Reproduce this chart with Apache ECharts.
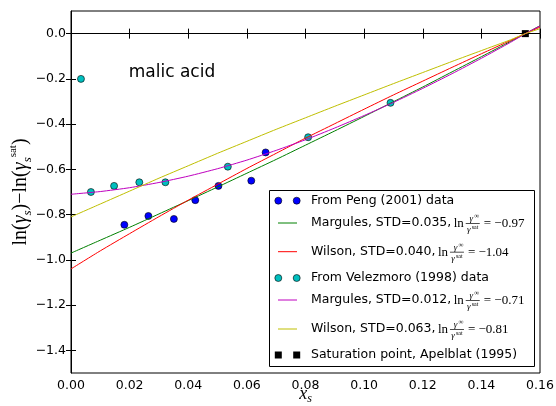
<!DOCTYPE html>
<html>
<head>
<meta charset="utf-8">
<script src="https://cdn.jsdelivr.net/npm/echarts@6/dist/echarts.min.js"></script>
<style>
  html, body { margin: 0; background: #fff; }
  #chart { width: 556px; height: 406px; }
</style>
</head>
<body>
<div id="chart"></div>
<script>
(function(){
  // ticks
  const xTicks = [0, 0.02, 0.04, 0.06, 0.08, 0.10, 0.12, 0.14, 0.16];
  const yTicks = [-1.4, -1.2, -1.0, -0.8, -0.6, -0.4, -0.2, 0.0];

  // measured points
  const pengX = [0.0182, 0.0264, 0.0351, 0.0424, 0.0503, 0.0615, 0.0664];
  const pengY = [-0.845, -0.806, -0.819, -0.736, -0.673, -0.650, -0.525];
  const velX = [0.0034, 0.0068, 0.0147, 0.0233, 0.0322, 0.0535, 0.0809, 0.109];
  const velY = [-0.200, -0.700, -0.673, -0.657, -0.657, -0.588, -0.458, -0.306];
  const satX = [0.155];
  const satY = [0.0];

  // fitted curves
  const fitX = [0, 0.01, 0.02, 0.03, 0.04, 0.05, 0.06, 0.07, 0.08, 0.09, 0.10, 0.11, 0.12, 0.13, 0.14, 0.15, 0.155, 0.16];
  const pengMargules = [-0.97, -0.913, -0.856, -0.797, -0.738, -0.678, -0.617, -0.556, -0.493, -0.43, -0.366, -0.301, -0.236, -0.169, -0.102, -0.034, 0.0, 0.035];
  const pengWilson = [-1.04, -0.960, -0.884, -0.809, -0.736, -0.666, -0.596, -0.529, -0.462, -0.398, -0.334, -0.271, -0.210, -0.149, -0.089, -0.030, 0.0, 0.029];
  const velMargules = [-0.71, -0.698, -0.681, -0.658, -0.630, -0.597, -0.559, -0.516, -0.469, -0.417, -0.362, -0.304, -0.242, -0.177, -0.109, -0.038, 0.0, 0.034];
  const velWilson = [-0.81, -0.753, -0.696, -0.639, -0.584, -0.529, -0.476, -0.423, -0.372, -0.321, -0.271, -0.221, -0.172, -0.123, -0.075, -0.027, 0.0, 0.022];

  // legend
  const legendNames = [
    "From Peng (2001) data",
    "Margules, STD=0.035, ",
    "Wilson, STD=0.040, ",
    "From Velezmoro (1998) data",
    "Margules, STD=0.012, ",
    "Wilson, STD=0.063, ",
    "Saturation point, Apelblat (1995)"
  ];
  const legendLn = ["", "\u22120.97", "\u22121.04", "", "\u22120.71", "\u22120.81", ""];
  const legendKind = ["dot", "line", "line", "dot", "line", "line", "square"];
  const legendColor = ["#0000ff", "#008000", "#ff0000", "#00bfbf", "#bf00bf", "#bfbf00", "#000000"];
  const legendRowY = [200.7, 223, 251.7, 278, 300, 329, 355];

  const pts = (xs, ys) => xs.map((x, i) => [x, ys[i]]);
  const minus = s => s.replace("-", "\u2212");

  const sans = '"DejaVu Sans", sans-serif';
  const serif = '"Liberation Serif", "DejaVu Serif", serif';
  const legFont = '12.5px ' + sans;

  const mctx = document.createElement("canvas").getContext("2d");
  mctx.font = '12.5px "DejaVu Sans"';

  // legend drawn by hand so it looks like matplotlib's
  const leg = [];
  leg.push({ type: "rect", shape: { x: 269.5, y: 190.5, width: 265, height: 176 },
    style: { fill: "#fff", stroke: "#000", lineWidth: 1 } });
  const iconL = 278.3, iconR = 296.7, textX = 311;
  const txt = (x, y, text, font, align) => ({ type: "text", x: x, y: y,
    style: { text: text, font: font, fill: "#000", textAlign: align || "left", textVerticalAlign: "middle" } });
  legendNames.forEach((name, i) => {
    const y = legendRowY[i], c = legendColor[i];
    if (legendKind[i] === "dot") {
      [iconL, iconR].forEach(cx => leg.push({ type: "circle", shape: { cx: cx, cy: y, r: 3.5 },
        style: { fill: c, stroke: "#000", lineWidth: 0.6 } }));
    } else if (legendKind[i] === "square") {
      [iconL, iconR].forEach(cx => leg.push({ type: "rect", shape: { x: cx - 3.5, y: y - 3.5, width: 7, height: 7 },
        style: { fill: c } }));
    } else {
      leg.push({ type: "line", shape: { x1: 278, y1: y, x2: 297, y2: y }, style: { stroke: c, lineWidth: 1 } });
    }
    leg.push(txt(textX, y, name, legFont));
    if (legendLn[i]) {
      const L = textX + mctx.measureText(name).width - 1.5;
      leg.push(txt(L, y + 0.5, "ln", '13px ' + serif));
      leg.push({ type: "line", shape: { x1: L + 12, y1: y + 0.5, x2: L + 26, y2: y + 0.5 }, style: { stroke: "#000", lineWidth: 0.7 } });
      leg.push(txt(L + 17.5, y - 4, "\u03b3", 'italic 9px ' + serif, "center"));
      leg.push(txt(L + 20.5, y - 7, "\u221e", '7px ' + serif));
      leg.push(txt(L + 15, y + 6.5, "\u03b3", 'italic 9px ' + serif, "center"));
      leg.push(txt(L + 18, y + 4.5, "sat", '6px ' + serif));
      leg.push(txt(L + 30, y + 0.5, "= " + legendLn[i], '13px ' + serif));
    }
  });

  const chart = echarts.init(document.getElementById("chart"));

  const lineSeries = (data, color) => ({
    type: "line", data: pts(fitX, data), symbol: "none", showSymbol: false, smooth: 0.2,
    lineStyle: { color: color, width: 1 }, itemStyle: { color: color }, clip: true
  });
  const dotSeries = (xs, ys, color, symbol) => ({
    type: "scatter", data: pts(xs, ys), symbol: symbol || "circle", symbolSize: 7,
    itemStyle: { color: color, borderColor: symbol ? color : "#000", borderWidth: symbol ? 0 : 0.6, opacity: 1 }
  });

  const option = {
    animation: false,
    backgroundColor: "#fff",
    grid: { left: 71, right: 16, top: 11, bottom: 33, containLabel: false, outerBoundsMode: "none",
      show: true, borderColor: "#000", borderWidth: 1 },
    xAxis: [{
      type: "value", min: 0, max: 0.16, interval: 0.02,
      axisLine: { show: true, lineStyle: { color: "#000" } },
      axisTick: { show: true, inside: true, length: 5, lineStyle: { color: "#000" } },
      axisLabel: { color: "#000", fontFamily: sans, fontSize: 12.5, margin: 6, formatter: v => v.toFixed(2) },
      splitLine: { show: false },
      name: "{i|x}{s|s}", nameLocation: "middle", nameGap: 10, nameMoveOverlap: false,
      nameTextStyle: { rich: {
        i: { fontFamily: serif, fontStyle: "italic", fontSize: 18, lineHeight: 22, color: "#000" },
        s: { fontFamily: serif, fontStyle: "italic", fontSize: 12, verticalAlign: "bottom", lineHeight: 14, color: "#000" }
      } }
    }, {
      type: "value", position: "top", min: 0, max: 0.16, interval: 0.02,
      axisLine: { show: false },
      axisTick: { show: true, inside: true, length: 5, lineStyle: { color: "#000" } },
      axisLabel: { show: false }, splitLine: { show: false }
    }],
    yAxis: [{
      type: "value", min: -1.5, max: 0.1,
      axisLine: { show: true, lineStyle: { color: "#000" } },
      axisTick: { show: true, inside: true, length: 5, customValues: yTicks, lineStyle: { color: "#000" } },
      axisLabel: { color: "#000", fontFamily: sans, fontSize: 12.5, margin: 5, customValues: yTicks,
        formatter: v => minus(v.toFixed(1)) },
      splitLine: { show: false },
      name: "{n|ln(}{g|\u03b3}{s|s}{n|)\u2212ln(}{g|\u03b3}{s|s}{p|sat}{n|)}",
      nameLocation: "middle", nameGap: 37, nameRotate: 90, nameMoveOverlap: false,
      nameTextStyle: { rich: {
        n: { fontFamily: serif, fontSize: 20, lineHeight: 26, color: "#000" },
        g: { fontFamily: serif, fontStyle: "italic", fontSize: 20, lineHeight: 26, color: "#000" },
        s: { fontFamily: serif, fontStyle: "italic", fontSize: 13, verticalAlign: "bottom", lineHeight: 16, color: "#000" },
        p: { fontFamily: serif, fontSize: 11, verticalAlign: "top", lineHeight: 14, color: "#000" }
      } }
    }, {
      type: "value", position: "right", min: -1.5, max: 0.1,
      axisLine: { show: false },
      axisTick: { show: true, inside: true, length: 5, customValues: yTicks, lineStyle: { color: "#000" } },
      axisLabel: { show: false }, splitLine: { show: false }
    }],
    series: [
      dotSeries(pengX, pengY, "#0000ff"),
      lineSeries(pengMargules, "#008000"),
      lineSeries(pengWilson, "#ff0000"),
      dotSeries(velX, velY, "#00bfbf"),
      lineSeries(velMargules, "#bf00bf"),
      lineSeries(velWilson, "#bfbf00"),
      dotSeries(satX, satY, "#000000", "rect")
    ],
    graphic: [
      txt(172, 73, "malic acid", '17px ' + sans, "center"),
      { type: "group", z: 100, children: leg }
    ]
  };

  chart.setOption(option);
  window.addEventListener("resize", () => chart.resize());
})();
</script>
</body>
</html>
